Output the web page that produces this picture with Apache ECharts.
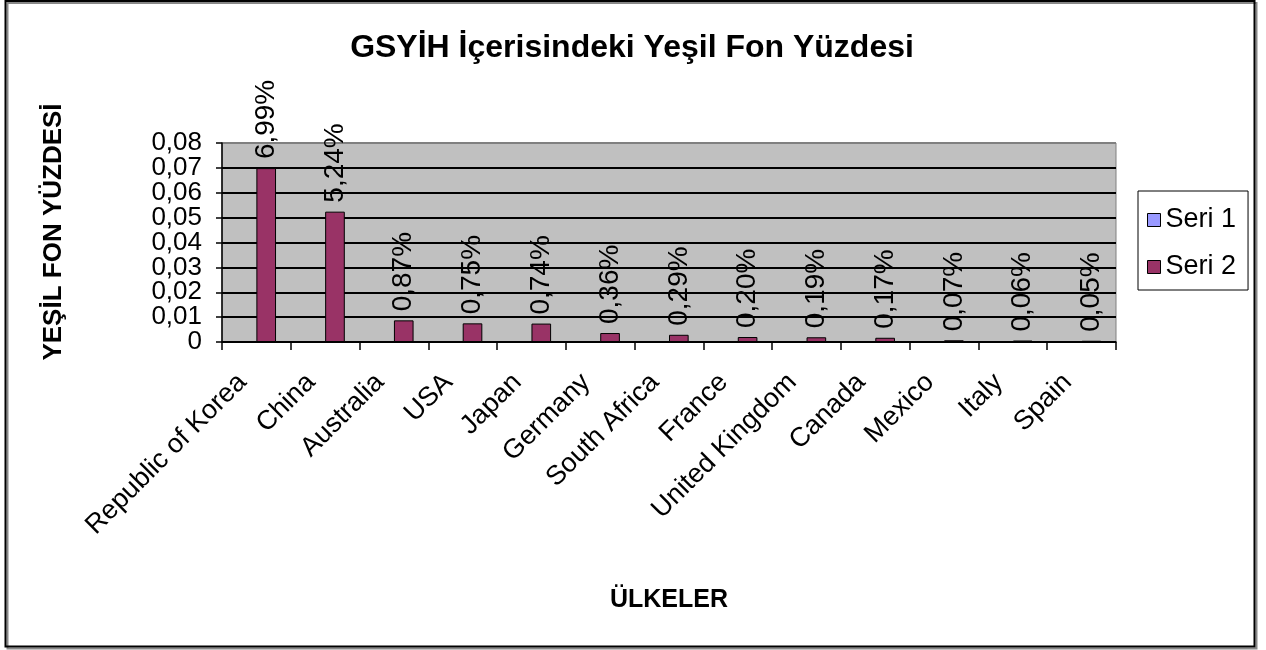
<!DOCTYPE html>
<html>
<head>
<meta charset="utf-8">
<script src="https://cdn.jsdelivr.net/npm/echarts@6/dist/echarts.min.js"></script>
<style>
html,body{margin:0;padding:0;background:#fff;}
#chart{width:1266px;height:650px;}
</style>
</head>
<body>
<div id="chart"></div>
<script>
const categories = ['Republic of Korea','China','Australia','USA','Japan','Germany','South Africa','France','United Kingdom','Canada','Mexico','Italy','Spain'];
const seri1 = [null,null,null,null,null,null,null,null,null,null,null,null,null];
const seri2 = [0.0699,0.0524,0.0087,0.0075,0.0074,0.0036,0.0029,0.0020,0.0019,0.0017,0.0007,0.0006,0.0005];
const yTicks = [0,0.01,0.02,0.03,0.04,0.05,0.06,0.07,0.08];
const yTickLabels = ['0','0,01','0,02','0,03','0,04','0,05','0,06','0,07','0,08'];
const titleText = 'GSYİH İçerisindeki Yeşil Fon Yüzdesi';
const yTitle = 'YEŞİL FON YÜZDESİ';
const xTitle = 'ÜLKELER';

const FONT = 'Liberation Sans, Arial, sans-serif';
const chart = echarts.init(document.getElementById('chart'), null, {renderer:'canvas'});

function fmtPct(v){ return (v*100).toFixed(2).replace('.', ',') + '%'; }

const splitColors = yTicks.map((t,i)=> i === yTicks.length-1 ? '#808080' : '#000');

chart.setOption({
  animation:false,
  backgroundColor:'#fff',
  textStyle:{fontFamily:FONT},
  grid:{left:222, right:150, top:143, bottom:308, show:true, backgroundColor:'#c0c0c0', borderColor:'#808080', borderWidth:1},
  legend:{
    orient:'vertical', left:1138, top:191,
    itemWidth:13, itemHeight:13, itemGap:17,
    padding:[14,12,8,9],
    borderColor:'#000', borderWidth:1, backgroundColor:'#fff',
    icon:'rect',
    itemStyle:{borderColor:'#000', borderWidth:1},
    textStyle:{fontSize:27, color:'#000', fontFamily:FONT, lineHeight:30},
    data:['Seri 1','Seri 2']
  },
  xAxis:{
    type:'category', data:categories,
    name:xTitle, nameLocation:'middle', nameGap:246,
    nameTextStyle:{fontSize:25, fontWeight:'bold', color:'#000', fontFamily:FONT},
    axisLine:{lineStyle:{color:'#000', width:1.5}},
    axisTick:{show:true, length:8, lineStyle:{color:'#000', width:1.5}},
    axisLabel:{rotate:45, fontSize:27, color:'#000', margin:22, interval:0, padding:[0,20,0,0], fontFamily:FONT}
  },
  yAxis:{
    type:'value', min:0, max:0.08, interval:0.01,
    axisLine:{show:true, lineStyle:{color:'#000', width:1.5}},
    axisTick:{show:true, length:6, lineStyle:{color:'#000', width:1.5}},
    axisLabel:{show:false},
    splitLine:{show:true, lineStyle:{color:splitColors, width:2}}
  },
  series:[
    {name:'Seri 1', type:'bar', data:seri1, barGap:'0%', barCategoryGap:'42.86%',
     itemStyle:{color:'#9999ff', borderColor:'#000', borderWidth:1}},
    {name:'Seri 2', type:'bar', data:seri2, barGap:'0%', barCategoryGap:'42.86%',
     itemStyle:{color:'#993366', borderColor:'#000', borderWidth:1},
     label:{show:true, position:'top', rotate:90, align:'left', verticalAlign:'middle', distance:9,
            fontSize:28, color:'#000', fontFamily:FONT,
            formatter:(p)=>fmtPct(p.value)}},
    {name:'yLabels', type:'custom', clip:false, silent:true, legendHoverLink:false,
     data:yTicks.map((v,i)=>[0, v, i]),
     encode:{x:0, y:1},
     renderItem:function(params, api){
       const pt = api.coord([api.value(0), api.value(1)]);
       const left = params.coordSys.x;
       return {type:'text', x:left-20, y:pt[1],
               style:{text:yTickLabels[api.value(2)], font:'26px '+FONT, fill:'#000', align:'right', verticalAlign:'middle'}};
     }}
  ],
  graphic:[
    {type:'rect', z:100, silent:true,
     shape:{x:5.5, y:1, width:1249, height:645.5},
     style:{fill:null, stroke:'#000', lineWidth:2, shadowColor:'#888', shadowOffsetX:2, shadowOffsetY:2, shadowBlur:0}},
    {type:'text', x:632, y:48, silent:true,
     style:{text:titleText, font:'bold 32px '+FONT, fill:'#000', align:'center', verticalAlign:'middle'}},
    {type:'text', x:54, y:232, rotation:Math.PI/2, silent:true,
     style:{text:yTitle, font:'bold 26px '+FONT, fill:'#000', align:'center', verticalAlign:'middle'}}
  ]
});
</script>
</body>
</html>
